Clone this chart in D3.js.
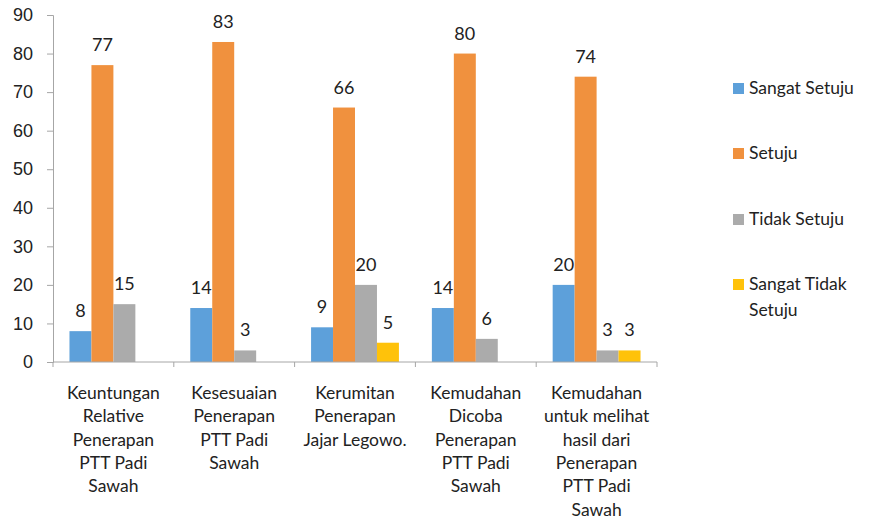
<!DOCTYPE html>
<html lang="en">
<head>
<meta charset="UTF-8">
<title>Grouped bar chart</title>
<script src="https://d3js.org/d3.v7.min.js"></script>
<style>
    body { margin: 0; padding: 0; background: #fff; }
    svg { font-family: Lato, "Open Sans", sans-serif; }
</style>
</head>
<body>
<svg width="869" height="527"></svg>
<script>
    const categories = [
        ["Keuntungan", "Relative", "Penerapan", "PTT Padi", "Sawah"],
        ["Kesesuaian", "Penerapan", "PTT Padi", "Sawah"],
        ["Kerumitan", "Penerapan", "Jajar Legowo."],
        ["Kemudahan", "Dicoba", "Penerapan", "PTT Padi", "Sawah"],
        ["Kemudahan", "untuk melihat", "hasil dari", "Penerapan", "PTT Padi", "Sawah"]
    ];
    const seriesNames = ["Sangat Setuju", "Setuju", "Tidak Setuju", "Sangat Tidak Setuju"];
    const sangatSetuju = [8, 14, 9, 14, 20];
    const setuju = [77, 83, 66, 80, 74];
    const tidakSetuju = [15, 3, 20, 6, 3];
    const sangatTidakSetuju = [0, 0, 5, 0, 3];
    const yTicks = [0, 10, 20, 30, 40, 50, 60, 70, 80, 90];
    const colors = ["#5DA0DA", "#F0913E", "#ABABAB", "#FFC20A"];

    const series = [sangatSetuju, setuju, tidakSetuju, sangatTidakSetuju];

    const margin = { left: 53, right: 212, top: 15, bottom: 165 };
    const width = 869, height = 527;
    const svg = d3.select("svg");

    const x0 = d3.scaleBand()
        .domain(d3.range(categories.length))
        .range([margin.left, width - margin.right]);
    const x1 = d3.scaleBand()
        .domain(d3.range(seriesNames.length))
        .range([0, x0.bandwidth()])
        .paddingInner(0)
        .paddingOuter(0.75);
    const y = d3.scaleLinear()
        .domain([0, 90])
        .range([height - margin.bottom, margin.top]);

    const axisColor = "#A6A6A6";
    const textColor = "#222";

    // y axis
    const yAxis = svg.append("g")
        .attr("transform", `translate(${margin.left},0)`)
        .call(d3.axisLeft(y).tickValues(yTicks).tickSize(6).tickPadding(14));
    yAxis.select(".domain").attr("stroke", axisColor);
    yAxis.selectAll(".tick line").attr("stroke", axisColor);
    yAxis.selectAll("text").attr("font-size", 18).attr("fill", textColor);

    // bars
    const groups = svg.append("g").selectAll("g")
        .data(categories)
        .join("g")
        .attr("transform", (d, i) => `translate(${x0(i)},0)`);

    groups.each(function (c, ci) {
        const g = d3.select(this);
        series.forEach((vals, si) => {
            const v = vals[ci];
            if (!v) return;
            g.append("rect")
                .attr("x", x1(si))
                .attr("y", y(v))
                .attr("width", x1.bandwidth())
                .attr("height", y(0) - y(v))
                .attr("fill", colors[si]);
            g.append("text")
                .attr("x", x1(si) + x1.bandwidth() / 2)
                .attr("y", y(v) - 14)
                .attr("text-anchor", "middle")
                .attr("font-size", 18)
                .attr("fill", textColor)
                .text(v);
        });
    });

    // x axis
    const base = svg.append("g");
    base.append("line")
        .attr("x1", margin.left).attr("x2", width - margin.right)
        .attr("y1", y(0)).attr("y2", y(0))
        .attr("stroke", axisColor);
    base.selectAll(".xtick")
        .data(d3.range(categories.length + 1))
        .join("line")
        .attr("x1", i => i < categories.length ? x0(i) : x0(i - 1) + x0.bandwidth())
        .attr("x2", i => i < categories.length ? x0(i) : x0(i - 1) + x0.bandwidth())
        .attr("y1", y(0)).attr("y2", y(0) + 5)
        .attr("stroke", axisColor);

    categories.forEach((lines, i) => {
        const t = svg.append("text")
            .attr("text-anchor", "middle")
            .attr("font-size", 17.5)
            .attr("fill", textColor);
        lines.forEach((ln, k) => {
            t.append("tspan")
                .attr("x", x0(i) + x0.bandwidth() / 2)
                .attr("y", 399 + k * 23.3)
                .text(ln);
        });
    });

    // legend
    const legendRows = [["Sangat Setuju"], ["Setuju"], ["Tidak Setuju"], ["Sangat Tidak", "Setuju"]];
    const legendY = [88, 153, 219, 284];
    const legend = svg.append("g");
    legendRows.forEach((rows, i) => {
        legend.append("rect")
            .attr("x", 733).attr("y", legendY[i] - 5)
            .attr("width", 11).attr("height", 11)
            .attr("fill", colors[i]);
        const t = legend.append("text")
            .attr("font-size", 17.5)
            .attr("fill", textColor);
        rows.forEach((r, k) => {
            t.append("tspan")
                .attr("x", 749)
                .attr("y", legendY[i] + 6 + k * 26)
                .text(r);
        });
    });
</script>
</body>
</html>
